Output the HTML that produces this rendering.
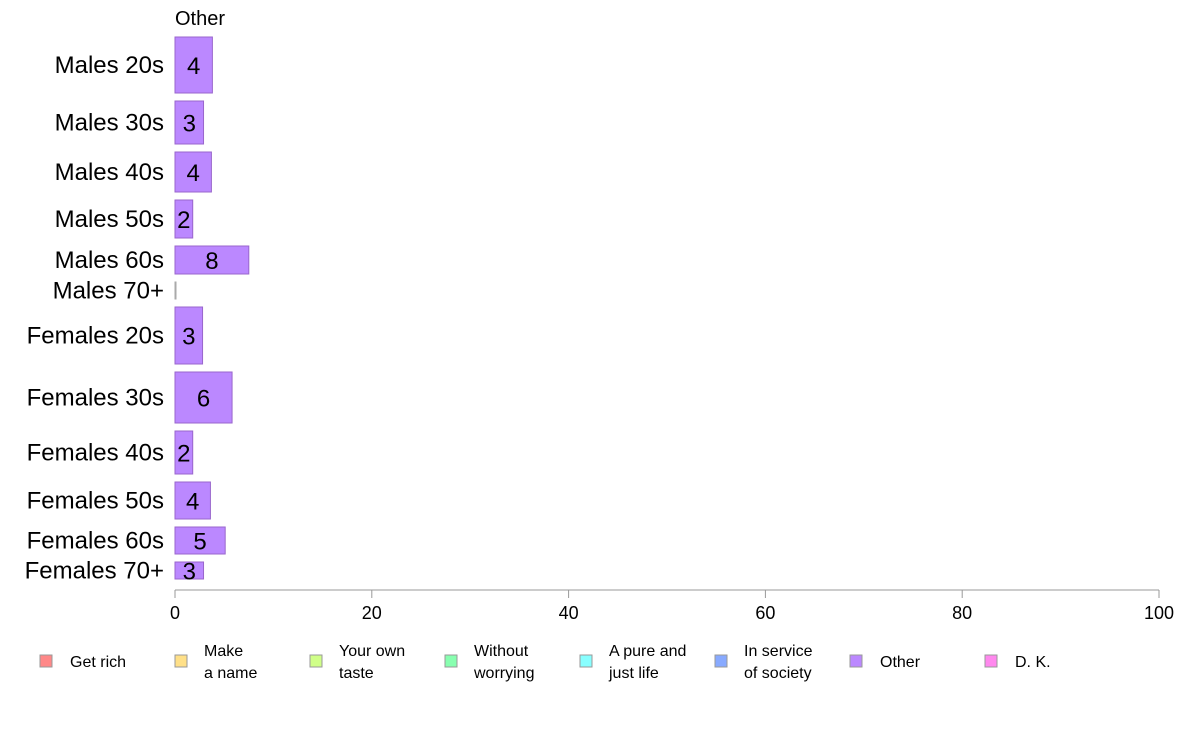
<!DOCTYPE html>
<html><head><meta charset="utf-8"><style>
body{margin:0;background:#fff;font-family:"Liberation Sans",sans-serif;}
svg text{font-family:"Liberation Sans",sans-serif;}
</style></head><body>
<svg width="1188" height="736">
<g id="bars"></g><g id="axis"></g><g id="legend"></g>
</svg>
<script>
const categories=["Males 20s","Males 30s","Males 40s","Males 50s","Males 60s","Males 70+","Females 20s","Females 30s","Females 40s","Females 50s","Females 60s","Females 70+"];
const values=[3.8,2.9,3.7,1.8,7.5,0,2.8,5.8,1.8,3.6,5.1,2.9];
const labels=["4","3","4","2","8","","3","6","2","4","5","3"];
const sizes=[56,43,40,38,28,17,57,51,43,37,27,17];
const ticks=[0,20,40,60,80,100];
const legendItems=[["Get rich"],["Make","a name"],["Your own","taste"],["Without","worrying"],["A pure and","just life"],["In service","of society"],["Other"],["D. K."]];
const legendColors=["#ff8888","#ffe088","#d0ff88","#88ffb0","#88ffff","#88aaff","#bb88ff","#ff88ee"];
const SVGNS="http://www.w3.org/2000/svg";
const xLeft=175,xRight=1159,chartTop=37,barGap=8;
const xs=v=>xLeft+(xRight-xLeft)*v/100;
function mk(t,a,p,txt){const e=document.createElementNS(SVGNS,t);for(const k in a)e.setAttribute(k,a[k]);if(txt!==undefined)e.textContent=txt;p.appendChild(e);return e;}
const barsG=document.getElementById('bars');
const tl=mk('text',{x:175,y:25,'font-size':20,fill:'#000'},barsG,"Other");


let yy=chartTop;
categories.forEach((c,i)=>{
 const h=sizes[i];
 const w=Math.max(xs(values[i])-xLeft,1);
 const r=mk('rect',{x:xLeft,y:yy,width:w,height:h,fill:values[i]>0?'#bb88ff':'#ccc',stroke:values[i]>0?'#9966cc':'#aaa','stroke-width':1},barsG);
 
 
 const cy=yy+h/2;
 const t=mk('text',{x:164,y:cy+8,'font-size':24,'text-anchor':'end',fill:'#000'},barsG,c);
 
 
 if(labels[i]){const v=mk('text',{x:(xLeft+xs(values[i]))/2,y:cy+9,'font-size':24,'text-anchor':'middle',fill:'#000'},barsG,labels[i]);
 
 }
 yy+=h+barGap;
});
const axG=document.getElementById('axis');
const al=mk('line',{x1:xLeft,x2:xRight,y1:590,y2:590,stroke:'#999'},axG);


ticks.forEach(t=>{
 const tk=mk('line',{x1:xs(t),x2:xs(t),y1:590,y2:598,stroke:'#999'},axG);
 
 
 const l=mk('text',{x:xs(t),y:619,'font-size':18,'text-anchor':'middle',fill:'#000'},axG,String(t));
 
 
});
const lgG=document.getElementById('legend');
legendItems.forEach((it,i)=>{
 const lx=40+135*i;
 const g=mk('g',{},lgG);
 
 
 mk('rect',{x:lx,y:655,width:12,height:12,fill:legendColors[i],stroke:'#999'},g);
 if(it.length==1){mk('text',{x:lx+30,y:667,'font-size':16,fill:'#000'},g,it[0]);}
 else{mk('text',{x:lx+29,y:656,'font-size':16,fill:'#000'},g,it[0]);mk('text',{x:lx+29,y:678,'font-size':16,fill:'#000'},g,it[1]);}
});
</script>
</body></html>
